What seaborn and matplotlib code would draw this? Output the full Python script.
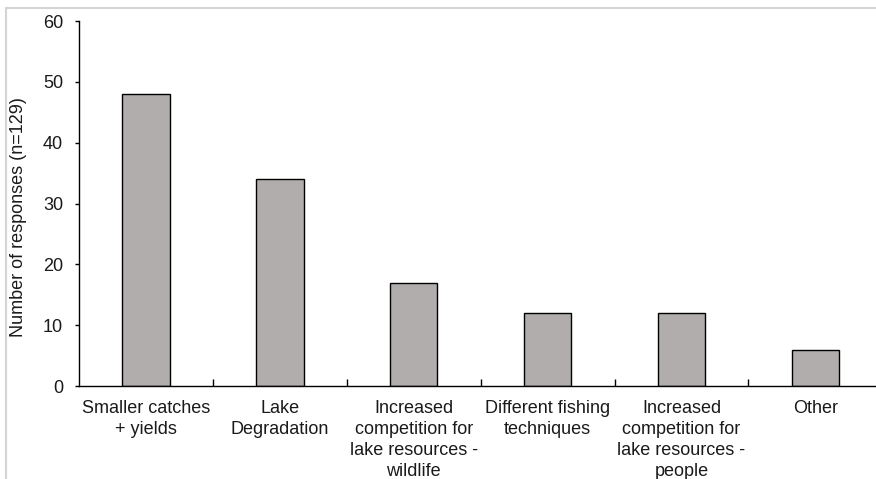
import matplotlib
matplotlib.use('Agg')
import matplotlib.pyplot as plt
from matplotlib.lines import Line2D
import seaborn as sns
import pandas as pd

# Reasons given for change
categories = ['Smaller catches\n+ yields',
              'Lake\nDegradation',
              'Increased\ncompetition for\nlake resources -\nwildlife',
              'Different fishing\ntechniques',
              'Increased\ncompetition for\nlake resources -\npeople',
              'Other']
responses = [48, 34, 17, 12, 12, 6]
y_ticks = [0, 10, 20, 30, 40, 50, 60]

sns.set_theme(style='white')
plt.rcParams['font.family'] = ['Liberation Sans', 'DejaVu Sans']

df = pd.DataFrame({'reason': categories, 'n': responses})

fig = plt.figure(figsize=(8.76, 4.79), dpi=100)
ax = fig.add_axes([0.0902, 0.194, 0.917, 0.762])

sns.barplot(data=df, x='reason', y='n', color='#b1adac', width=0.355,
            edgecolor='black', linewidth=1.0, saturation=1, ax=ax)

ax.set_xlim(-0.5, 5.5)
ax.set_ylim(0, 60)
ax.set_yticks(y_ticks)
ax.set_xlabel('')
ax.set_ylabel('Number of responses (n=129)', fontsize=13, color='#1a1a1a')
ax.yaxis.set_label_coords(-0.065, 0.463)

for s in ['top', 'right']:
    ax.spines[s].set_visible(False)
for s in ['left', 'bottom']:
    ax.spines[s].set_color('black')
    ax.spines[s].set_linewidth(1.0)

# category boundary ticks on the x axis, pointing up
ax.set_xticks([i + 0.5 for i in range(len(categories))], minor=True)
ax.tick_params(axis='x', which='minor', direction='in', length=5, width=1, color='black', bottom=True)
ax.tick_params(axis='x', which='major', length=0, labelsize=13, labelcolor='#1a1a1a', pad=10)
ax.tick_params(axis='y', which='major', direction='out', length=3, width=1, color='black',
               left=True, labelsize=13, labelcolor='#1a1a1a', pad=8.5)
for lbl in ax.get_xticklabels():
    lbl.set_linespacing(1.3)

# light frame around the chart area
fig.add_artist(Line2D([6/876, 1], [1 - 8/479, 1 - 8/479], color='#d4d4d4', lw=1.5))
fig.add_artist(Line2D([6/876, 6/876], [0, 1 - 8/479], color='#d4d4d4', lw=1.5))

fig.savefig('out.png', dpi=100)
